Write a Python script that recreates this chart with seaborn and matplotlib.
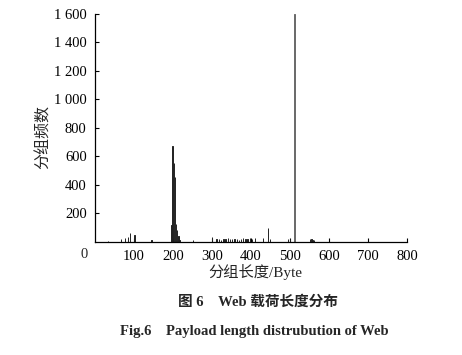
import matplotlib
matplotlib.use("Agg")
import matplotlib.pyplot as plt
import seaborn as sns
import pandas as pd

# payload length (byte) and packet counts
lengths = [34, 66, 77, 84, 90, 101, 145, 196, 199, 202, 205, 208, 211, 214, 217,
           251, 300, 312, 318, 323, 329, 335, 341, 346, 352, 358, 364, 370, 375,
           380, 386, 391, 397, 403, 410, 431, 443, 449, 495, 500, 512,
           551, 555, 558, 562]
counts = [6, 18, 25, 34, 58, 44, 10, 116, 674, 552, 456, 123, 81, 39, 12,
          8, 30, 15, 18, 14, 20, 16, 22, 15, 19, 17, 21, 14, 18,
          28, 16, 20, 28, 18, 22, 22, 95, 20, 18, 20, 1600,
          16, 18, 14, 12]

yticks = [200, 400, 600, 800, 1000, 1200, 1400, 1600]
ytick_labels = ["200", "400", "600", "800", "1 000", "1 200", "1 400", "1 600"]
xticks = [100, 200, 300, 400, 500, 600, 700, 800]
xtick_labels = ["100", "200", "300", "400", "500", "600", "700", "800"]

df = pd.DataFrame({"length": lengths, "count": counts})
df["tone"] = ["peak" if c >= 1000 else "base" for c in counts]

sns.set_style("ticks")
fam = ["Liberation Serif", "Noto Sans CJK SC"]
plt.rcParams["font.family"] = fam

fig = plt.figure(figsize=(4.62, 3.55), dpi=100)
ax = fig.add_axes([95 / 462, 1 - 241.5 / 355, (407 - 95) / 462, (241.5 - 14) / 355])

sns.histplot(data=df, x="length", weights="count", discrete=True, ax=ax,
             hue="tone", palette={"base": "#222222", "peak": "#6a6a6a"},
             multiple="layer", linewidth=0.7, alpha=1.0, legend=False)
for p in ax.patches:
    p.set_edgecolor(p.get_facecolor())

ax.set_xlim(0, 800)
ax.set_ylim(0, 1600)
ax.set_xticks(xticks)
ax.set_xticklabels(xtick_labels)
ax.set_yticks(yticks)
ax.set_yticklabels(ytick_labels)
ax.tick_params(direction="in", length=3, width=0.8, labelsize=10.5, colors="black", pad=6)
for s in ["top", "right"]:
    ax.spines[s].set_visible(False)
for s in ["left", "bottom"]:
    ax.spines[s].set_linewidth(0.9)
    ax.spines[s].set_color("black")
ax.set_xlabel("")
ax.set_ylabel("")

fig.text(84 / 462, 1 - 255 / 355, "0", ha="center", va="center", fontsize=10.5, family=fam)
fig.text(43 / 462, 1 - 137 / 355, "分组频数", rotation=90, ha="center", va="center",
         fontsize=11.5, family=["Noto Sans CJK SC"])
fig.text(255 / 462, 1 - 272 / 355, "分组长度/Byte", ha="center", va="center",
         fontsize=11, family=fam)
fig.text(258 / 462, 1 - 302 / 355, "图 6　Web 载荷长度分布", ha="center", va="center",
         fontsize=10.5, fontweight="bold", family=fam)
fig.text(254 / 462, 1 - 331 / 355, "Fig.6　Payload length distrubution of Web", ha="center",
         va="center", fontsize=10.5, fontweight="bold", family=fam)

fig.savefig("out.png", dpi=100)
